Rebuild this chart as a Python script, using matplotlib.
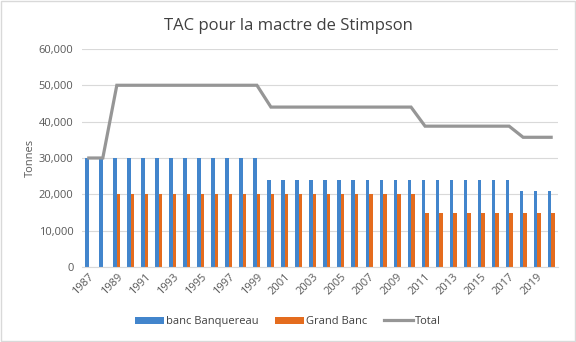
import matplotlib
matplotlib.use("Agg")
import matplotlib.pyplot as plt
from matplotlib.ticker import FuncFormatter, MultipleLocator
from matplotlib.patches import Rectangle
import numpy as np

years = list(range(1987, 2021))
banquereau = [30000] * 13 + [24000] * 18 + [20940] * 3
grand_banc = [0] * 2 + [20000] * 22 + [14756] * 10
total = [30000] * 2 + [50000] * 11 + [44000] * 11 + [38756] * 7 + [35696] * 3

plt.rcParams['font.family'] = ['Open Sans', 'DejaVu Sans']

fig = plt.figure(figsize=(5.76, 3.42), dpi=100)
ax = fig.add_axes([0.142, 0.219, 0.827, 0.638])

x = np.arange(len(years))
w = 0.25
b1 = ax.bar(x - w / 2, banquereau, width=w, color='#4285CC', label='banc Banquereau', zorder=2)
b2 = ax.bar(x + w / 2, grand_banc, width=w, color='#E46C1E', label='Grand Banc', zorder=2)
l1, = ax.plot(x, total, color='#969696', lw=2.3, label='Total', zorder=3, solid_joinstyle='miter')

ax.set_xlim(-0.5, len(years) - 0.5)
ax.set_ylim(0, 60000)
ax.yaxis.set_major_locator(MultipleLocator(10000))
ax.yaxis.set_major_formatter(FuncFormatter(lambda v, p: f"{int(v):,}"))
ax.grid(axis='y', color='#D9D9D9', lw=0.8, zorder=0)
ax.set_axisbelow(True)

ax.set_xticks(x[::2])
ax.set_xticklabels([str(y) for y in years[::2]], rotation=45, ha='right',
                   rotation_mode='anchor', fontsize=8, color='#595959')
ax.tick_params(axis='x', length=0, pad=3)
ax.tick_params(axis='y', length=0, labelsize=8, labelcolor='#595959', pad=6)

for s in ['top', 'right', 'left']:
    ax.spines[s].set_visible(False)
ax.spines['bottom'].set_color('#D9D9D9')

ax.set_ylabel('Tonnes', fontsize=8, color='#595959', labelpad=2)
fig.text(0.5, 0.925, 'TAC pour la mactre de Stimpson', ha='center', va='center',
         fontsize=12, color='#404040')

fig.legend([b1, b2, l1], ['banc Banquereau', 'Grand Banc', 'Total'],
           loc='center', bbox_to_anchor=(0.5, 0.06), ncol=3, frameon=False,
           fontsize=8, handlelength=2.6, handleheight=0.6, columnspacing=1.5,
           handletextpad=0.2, labelcolor='#404040')

fig.patches.append(Rectangle((0.001, 0.002), 0.997, 0.995, transform=fig.transFigure,
                             fill=False, edgecolor='#D9D9D9', lw=1))

fig.savefig('out.png', dpi=100)
